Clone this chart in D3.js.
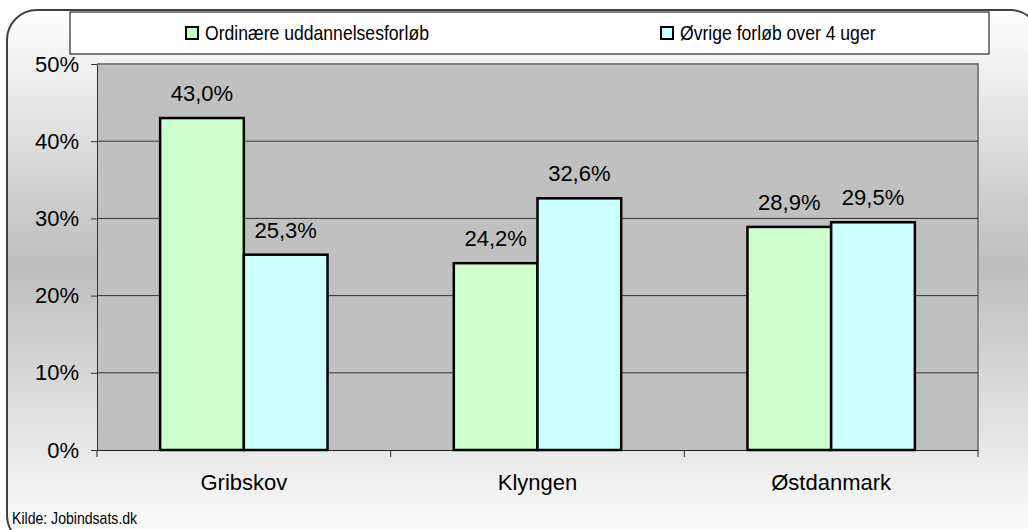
<!DOCTYPE html>
<html><head><meta charset="utf-8">
<script src="https://cdn.jsdelivr.net/npm/d3@7"></script>
<style>html,body{margin:0;padding:0;background:#fff;}svg{display:block;}</style>
</head><body>
<svg id="chart" width="1028" height="530"></svg>
<script>
const categories = ["Gribskov", "Klyngen", "Østdanmark"];
const seriesNames = ["Ordinære uddannelsesforløb", "Øvrige forløb over 4 uger"];
const ordinaere = [43.0, 24.2, 28.9];
const oevrige = [25.3, 32.6, 29.5];
const yTicks = [0, 10, 20, 30, 40, 50];
const source = "Kilde: Jobindsats.dk";
const colors = ["#ccffcc", "#ccffff"];

const FONT = "'Liberation Sans', Arial, sans-serif";
const svg = d3.select("#chart");
const defs = svg.append("defs");
const grad = defs.append("linearGradient").attr("id","bg").attr("x1",0).attr("y1",0).attr("x2",0).attr("y2",1);
grad.append("stop").attr("offset","0%").attr("stop-color","#ffffff");
grad.append("stop").attr("offset","48%").attr("stop-color","#bdbdbd");
grad.append("stop").attr("offset","100%").attr("stop-color","#ffffff");

svg.append("rect").attr("x",7).attr("y",10).attr("width",1033).attr("height",535)
  .attr("rx",30).attr("ry",30).attr("fill","url(#bg)").attr("stroke","#404040").attr("stroke-width",2);

const m = {l:97, r:978, t:64, b:450};
const x = d3.scaleBand().domain(categories).range([m.l, m.r]).paddingInner(0.43).paddingOuter(0.215);
const x1 = d3.scaleBand().domain([0,1]).range([0, x.bandwidth()]);
const xOuter = d3.scaleBand().domain(categories).range([m.l, m.r]);
const y = d3.scaleLinear().domain([0,50]).range([m.b, m.t]);

const g = svg.append("g");
g.append("rect").attr("x",m.l).attr("y",m.t).attr("width",m.r-m.l).attr("height",m.b-m.t)
  .attr("fill","#c0c0c0");
g.append("path").attr("d",`M${m.l},${m.t}H${m.r}V${m.b}`).attr("fill","none").attr("stroke","#808080").attr("stroke-width",2);
g.selectAll(".grid").data(yTicks.filter(d=>d>0 && d<50)).join("line")
  .attr("x1",m.l).attr("x2",m.r).attr("y1",d=>y(d)).attr("y2",d=>y(d))
  .attr("stroke","#333").attr("stroke-width",1);

const yAxis = d3.axisLeft(y).tickValues(yTicks).tickFormat(d=>d+"%").tickSize(6).tickSizeOuter(0).tickPadding(12);
const ya = g.append("g").attr("transform",`translate(${m.l},0)`).call(yAxis);
ya.select(".domain").attr("stroke","#333");
ya.selectAll(".tick line").attr("stroke","#333");
ya.selectAll("text").attr("font-family",FONT).attr("font-size",22).attr("fill","#000");

const xa = g.append("g").attr("transform",`translate(0,${m.b})`).call(d3.axisBottom(xOuter).tickSize(0).tickPadding(24));
xa.select(".domain").attr("stroke","#222");
xa.selectAll("text").attr("font-family",FONT).attr("font-size",22).attr("fill","#000");
const bounds = categories.map(c=>xOuter(c)).concat([m.r]);
g.selectAll(".xt").data(bounds).join("line").attr("x1",d=>d).attr("x2",d=>d)
  .attr("y1",m.b).attr("y2",m.b+7).attr("stroke","#222");

const data = [];
categories.forEach((c,i)=>{ data.push({c, s:0, v:ordinaere[i]}); data.push({c, s:1, v:oevrige[i]}); });
g.selectAll(".bar").data(data).join("rect")
  .attr("x",d=>x(d.c)+x1(d.s)).attr("width",x1.bandwidth())
  .attr("y",d=>y(d.v)).attr("height",d=>y(0)-y(d.v))
  .attr("fill",d=>colors[d.s]).attr("stroke","#000").attr("stroke-width",2.5);
g.selectAll(".lbl").data(data).join("text")
  .attr("x",d=>x(d.c)+x1(d.s)+x1.bandwidth()/2).attr("y",d=>y(d.v)-17)
  .attr("text-anchor","middle").attr("font-family",FONT).attr("font-size",22)
  .text(d=>d.v.toFixed(1).replace(".",",")+"%");

svg.append("rect").attr("x",70).attr("y",12).attr("width",919).attr("height",42).attr("fill","#fff").attr("stroke","#000").attr("stroke-width",1);
const legX = [186, 661];
const leg = svg.selectAll(".leg").data(seriesNames).join("g").attr("transform",(d,i)=>`translate(${legX[i]},27)`);
leg.append("rect").attr("width",12).attr("height",12).attr("fill",(d,i)=>colors[i]).attr("stroke","#000").attr("stroke-width",2);
leg.append("text").attr("transform","translate(19,13) scale(0.88,1)").attr("font-family",FONT).attr("font-size",20).text(d=>d);

svg.append("text").attr("transform","translate(12,524) scale(0.88,1)").attr("font-family",FONT).attr("font-size",16).text(source);
</script>
</body></html>
